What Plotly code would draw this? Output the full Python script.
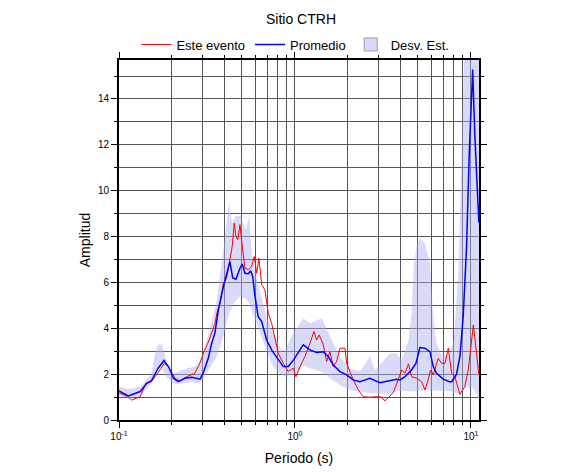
import plotly.graph_objects as go

# ---- data ----
periods_mean = [0.100, 0.113, 0.132, 0.144, 0.153, 0.167, 0.180, 0.191, 0.204, 0.217, 0.237, 0.259,
                0.289, 0.301, 0.322, 0.335, 0.351, 0.367, 0.392, 0.418, 0.427, 0.443, 0.462, 0.487,
                0.502, 0.520, 0.543, 0.560, 0.575, 0.593, 0.618, 0.647, 0.690, 0.737, 0.804, 0.858,
                0.916, 0.978, 1.068, 1.115, 1.217, 1.328, 1.448, 1.545, 1.651, 1.802, 1.967, 2.144,
                2.340, 2.668, 3.04, 3.46, 3.78, 3.95, 4.22, 4.60, 4.87, 5.13, 5.48, 5.85, 6.11, 6.38,
                6.96, 7.53, 7.77, 8.29, 8.66, 9.04, 9.45, 9.78, 10.23, 10.54, 11.1]
amp_mean = [1.27, 1.05, 1.24, 1.60, 1.72, 2.26, 2.59, 2.33, 1.82, 1.67, 1.82, 1.86,
            1.78, 2.05, 2.70, 3.30, 3.80, 4.80, 5.82, 6.62, 6.91, 6.19, 6.14, 6.62,
            6.81, 6.40, 6.38, 6.51, 6.26, 5.39, 4.51, 4.29, 3.49, 3.06, 2.62, 2.33,
            2.33, 2.60, 3.06, 3.28, 3.06, 2.94, 2.98, 2.77, 2.40, 2.11, 1.97, 1.75,
            1.67, 1.82, 1.63, 1.72, 1.78, 1.75, 1.89, 2.18, 2.47, 3.16, 3.13, 2.98, 2.33, 2.04,
            1.78, 1.67, 1.67, 2.00, 2.77, 4.51, 7.57, 11.57, 15.28, 12.30, 8.60]

periods_event = [0.100, 0.113, 0.118, 0.132, 0.142, 0.153, 0.167, 0.181, 0.191, 0.208, 0.222, 0.243,
                 0.270, 0.289, 0.304, 0.322, 0.351, 0.361, 0.375, 0.392, 0.409, 0.427, 0.440, 0.452,
                 0.462, 0.473, 0.487, 0.502, 0.520, 0.543, 0.567, 0.587, 0.606, 0.624, 0.647, 0.675,
                 0.705, 0.737, 0.770, 0.804, 0.858, 0.916, 0.978, 1.013, 1.068, 1.14, 1.217, 1.282,
                 1.328, 1.374, 1.448, 1.514, 1.58, 1.651, 1.725, 1.802, 1.924, 1.967, 2.144, 2.29,
                 2.44, 2.668, 2.91, 3.04, 3.25, 3.46, 3.62, 3.86, 4.04, 4.22, 4.42, 4.60, 4.92,
                 5.25, 5.48, 5.72, 5.90, 6.11, 6.52, 6.81, 7.12, 7.44, 7.77, 8.11, 8.66, 9.23,
                 9.66, 10.33, 10.8, 11.1]
amp_event = [1.19, 1.00, 0.87, 1.02, 1.60, 1.67, 2.08, 2.47, 2.33, 1.82, 1.70, 1.89,
             2.04, 2.50, 2.98, 3.40, 4.20, 4.70, 5.10, 5.97, 6.19, 7.13, 7.57, 8.59,
             8.00, 7.86, 8.52, 7.57, 6.62, 6.55, 6.69, 7.13, 6.40, 7.06, 5.90, 5.68,
             4.66, 4.22, 3.49, 2.91, 2.47, 2.11, 2.26, 1.89, 2.33, 2.77, 3.35, 3.86,
             3.49, 3.71, 3.28, 2.55, 2.98, 2.33, 2.55, 3.13, 3.13, 2.47, 1.75, 1.31,
             1.02, 0.99, 1.02, 1.02, 0.84, 1.02, 1.19, 1.75, 2.18, 2.04, 2.45, 1.89, 1.82,
             1.67, 1.31, 1.75, 2.18, 1.97, 2.69, 2.47, 2.47, 3.13, 2.04, 1.89, 1.12, 1.46,
             2.18, 4.15, 2.77, 1.97]

periods_band = [0.100, 0.113, 0.132, 0.144, 0.153, 0.160, 0.167, 0.175, 0.185, 0.195, 0.21, 0.23,
                0.26, 0.28, 0.30, 0.33, 0.36, 0.39, 0.42, 0.44, 0.46, 0.49, 0.525, 0.55, 0.57,
                0.62, 0.69, 0.75, 0.86, 0.98, 1.07, 1.115, 1.22, 1.42, 1.58, 1.80, 2.05, 2.34,
                2.67, 2.85, 3.04, 3.46, 3.78, 4.04, 4.42, 4.60, 4.75, 4.92, 5.13, 5.48, 5.85,
                6.11, 6.38, 6.81, 7.53, 8.0, 8.5, 9.0, 9.3, 10.0, 10.5, 11.1]
std_upper = [1.45, 1.35, 1.45, 1.80, 2.00, 2.90, 3.28, 3.30, 2.60, 2.00, 2.05, 2.20,
             2.30, 2.40, 2.90, 4.00, 5.24, 7.28, 9.46, 8.60, 8.90, 8.90, 8.30, 8.90, 7.13,
             5.82, 4.51, 3.80, 2.90, 3.80, 4.22, 4.44, 4.22, 4.44, 3.64, 2.77, 2.26, 2.11,
             2.77, 2.18, 2.40, 2.91, 2.91, 2.62, 3.49, 4.70, 6.85, 7.60, 7.93, 7.72, 6.85,
             4.51, 3.35, 2.84, 2.80, 3.50, 6.50, 14.0, 18.0, 18.0, 18.0, 18.0]
std_lower = [1.05, 0.95, 1.05, 1.40, 1.60, 2.00, 2.26, 2.30, 1.90, 1.70, 1.55, 1.60,
             1.65, 1.60, 1.80, 2.30, 2.77, 3.60, 4.60, 4.95, 5.20, 5.39, 5.30, 5.10, 4.70,
             3.93, 3.06, 2.33, 1.90, 1.97, 2.20, 2.40, 2.25, 2.11, 1.82, 1.53, 1.30, 1.24,
             1.17, 1.15, 1.15, 1.12, 1.25, 1.28, 1.26, 1.24, 1.24, 1.25, 1.28, 1.30, 1.31,
             1.30, 1.29, 1.28, 1.27, 1.20, 1.17, 1.30, 1.40, 1.45, 1.30, 0.90]

x_tickvals = [0.1, 1, 10]
x_ticktext = ["10<sup>-1</sup>", "10<sup>0</sup>", "10<sup>1</sup>"]
x_minorvals = [0.2, 0.3, 0.4, 0.5, 0.6, 0.7, 0.8, 0.9, 2, 3, 4, 5, 6, 7, 8, 9]

FONT = "Liberation Sans, Arial, Helvetica, sans-serif"
GRID = "#555555"
BAND = "rgba(170,170,240,0.45)"

fig = go.Figure()
fig.add_trace(go.Scatter(
    x=periods_band + periods_band[::-1], y=std_upper + std_lower[::-1],
    mode="lines", fill="toself", fillcolor=BAND,
    line=dict(width=0, color="rgba(0,0,0,0)"), name="Desv. Est.", showlegend=False))
fig.add_trace(go.Scatter(
    x=periods_event, y=amp_event, mode="lines", name="Este evento",
    line=dict(color="#ff0000", width=1), legendrank=1))
fig.add_trace(go.Scatter(
    x=periods_mean, y=amp_mean, mode="lines", name="Promedio",
    line=dict(color="#0000ff", width=1.5), legendrank=2))
# legend entry for the std band (square swatch)
fig.add_trace(go.Scatter(
    x=[None], y=[None], mode="markers", name="Desv. Est.", legendrank=3,
    marker=dict(symbol="square", size=13, color="rgb(218,218,248)",
                line=dict(color="#9a9ab0", width=1))))

fig.update_layout(
    width=586, height=475,
    margin=dict(l=111, r=115, t=52, b=63, autoexpand=False),
    paper_bgcolor="white", plot_bgcolor="white",
    font=dict(family=FONT, size=11, color="black"),
    title=dict(text="Sitio CTRH", x=0.5, xanchor="center", y=0.977, yanchor="middle",
               font=dict(size=14, family=FONT)),
    legend=dict(orientation="h", x=0.49, xanchor="center", y=1.043, yanchor="middle",
                font=dict(size=13, family=FONT),
                itemwidth=30, bgcolor="rgba(0,0,0,0)"),
    showlegend=True,
)
fig.update_xaxes(
    type="log", range=[-1, 1.046], automargin=False,
    tickmode="array", tickvals=x_tickvals, ticktext=x_ticktext,
    ticks="outside", ticklen=6, tickwidth=1, tickcolor="black",
    showgrid=True, gridcolor=GRID, gridwidth=1,
    minor=dict(tickmode="array", tickvals=x_minorvals, ticks="outside", ticklen=3,
               tickcolor="black", showgrid=True, gridcolor=GRID, gridwidth=1),
    showline=True, linecolor="black", linewidth=2, mirror="ticks",
    tickfont=dict(size=10), zeroline=False,
    title=dict(text="Periodo (s)", font=dict(size=14), standoff=12),
)
fig.update_yaxes(
    range=[0, 15.7], dtick=2, tick0=0, automargin=False,
    ticks="outside", ticklen=6, tickwidth=1, tickcolor="black",
    showgrid=True, gridcolor=GRID, gridwidth=1,
    minor=dict(dtick=1, ticks="outside", ticklen=3, tickcolor="black",
               showgrid=True, gridcolor=GRID, gridwidth=1),
    showline=True, linecolor="black", linewidth=2, mirror="ticks",
    tickfont=dict(size=10), zeroline=False,
    title=dict(text="Amplitud", font=dict(size=14), standoff=4),
)

fig.write_html("out.html")
